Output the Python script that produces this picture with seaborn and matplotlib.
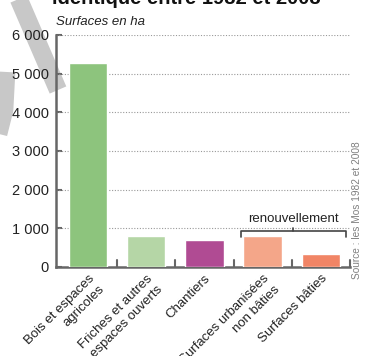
import matplotlib
matplotlib.use("Agg")
import matplotlib.pyplot as plt
import matplotlib.transforms as mtransforms
import seaborn as sns
import pandas as pd
from matplotlib.lines import Line2D

categories = ["Bois et espaces\nagricoles", "Friches et autres\nespaces ouverts", "Chantiers",
              "Surfaces urbanisées\nnon bâties", "Surfaces bâties"]
values = [5270, 800, 700, 800, 330]
colors = ["#8dc47d", "#b5d6a6", "#b04b93", "#f4a689", "#f18566"]
yticks = [0, 1000, 2000, 3000, 4000, 5000, 6000]
ytick_labels = ["0", "1 000", "2 000", "3 000", "4 000", "5 000", "6 000"]

sns.set_theme(style="white")
plt.rcParams['font.family'] = ['Liberation Sans', 'DejaVu Sans']

df = pd.DataFrame({"cat": categories, "val": values})

fig = plt.figure(figsize=(3.66, 3.56), dpi=100)

# watermark bands (decoration)
wm = "#c8c8c8"
fig.add_artist(Line2D([17/366, 58/366], [1-(-5)/356, 1-90/356], transform=fig.transFigure,
                      color=wm, lw=13, solid_capstyle='butt', zorder=0))
fig.add_artist(Line2D([7/366, 5/366, -4/366], [1-72/356, 1-110/356, 1-146/356], transform=fig.transFigure,
                      color=wm, lw=12, solid_capstyle='butt', zorder=0))

ax = fig.add_axes([56/366, 89/356, (350-56)/366, (267-35)/356])
ax.patch.set_alpha(0)
sns.barplot(data=df, x="cat", y="val", hue="cat", palette=colors, legend=False,
            width=0.66, ax=ax, saturation=1, zorder=3)

ax.set_ylim(0, 6000)
ax.set_xlim(-0.55, 4.5)
ax.set_yticks(yticks)
ax.set_yticklabels(ytick_labels, fontsize=10.5, color="#222222")
for y in yticks[1:]:
    ax.axhline(y, color="#999999", lw=0.8, ls=(0, (1, 1.5)), zorder=1)

ax.set_xticks(range(len(categories)))
ax.set_xticklabels(categories, rotation=45, ha="right", rotation_mode="anchor",
                   fontsize=9.5, color="#222222", linespacing=1.35, multialignment="right")
offset = mtransforms.ScaledTranslation(3/100, 0, fig.dpi_scale_trans)
for lbl in ax.get_xticklabels():
    lbl.set_transform(lbl.get_transform() + offset)
ax.tick_params(axis='x', length=0, pad=4)
ax.tick_params(axis='y', direction='in', length=4, width=1.5, color="#666666", pad=5, left=True)
for b in [0.5, 1.5, 2.5, 3.5, 4.5]:
    ax.plot([b, b], [0, 180], color="#666666", lw=1.5, zorder=4, clip_on=False)

for s in ["top", "right"]:
    ax.spines[s].set_visible(False)
for s in ["left", "bottom"]:
    ax.spines[s].set_color("#666666")
    ax.spines[s].set_linewidth(1.8)
ax.set_xlabel("")
ax.set_ylabel("")

# bracket "renouvellement"
bx0, bx1, by, bd = 2.62, 4.43, 930, 780
ax.plot([bx0, bx0, bx1, bx1], [bd, by, by, bd], color="#444444", lw=1.2, zorder=4)
ax.plot([3.52, 3.52], [by, by + 80], color="#444444", lw=1.2, zorder=4)
ax.text(3.52, by + 150, "renouvellement", ha="center", va="bottom", fontsize=9.5, color="#222222")

fig.text(52/366, 1 - 4/356, "identique entre 1982 et 2008", fontsize=14.5, fontweight="bold",
         ha="left", va="baseline", color="#111111")
fig.text(56/366, 1 - 25/356, "Surfaces en ha", fontsize=9.5, style="italic",
         ha="left", va="baseline", color="#222222")
fig.text(357/366, 1 - 210/356, "Source : les Mos 1982 et 2008", rotation=90, fontsize=7.3,
         ha="center", va="center", color="#808080")

fig.savefig("out.png", dpi=100)
